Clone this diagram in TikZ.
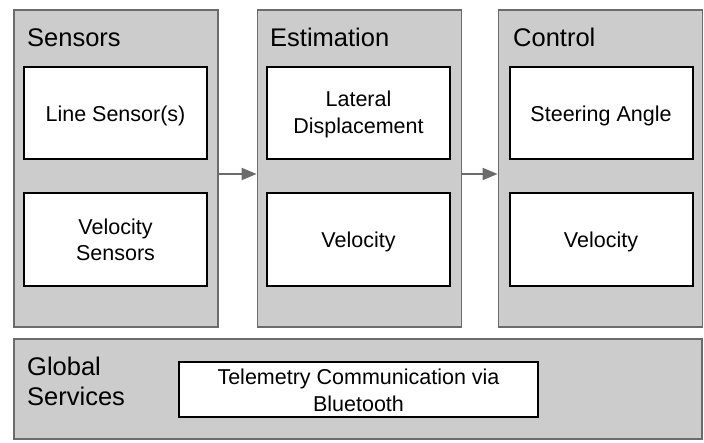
\documentclass[tikz,border=0pt]{standalone}
\usepackage{fontspec}
\setmainfont{Liberation Sans}
\usetikzlibrary{arrows.meta}
\definecolor{groupfill}{HTML}{CCCCCC}
\definecolor{groupline}{HTML}{6B6B6B}
\begin{document}
\begin{tikzpicture}[x=1pt,y=1pt,
  group/.style={draw=groupline,fill=groupfill,line width=1.8pt,minimum width=204pt,minimum height=317pt,inner sep=0pt},
  item/.style={draw=black,fill=white,line width=2pt,minimum width=183pt,minimum height=92pt,inner sep=0pt},
  lbl/.style={anchor=base,inner sep=0pt,align=center,font=\fontsize{21.5}{26.5}\selectfont},
  title/.style={anchor=base west,inner sep=0pt,font=\fontsize{25.5}{30}\selectfont,align=left},
  flow/.style={draw=groupline,line width=2pt,-{Triangle[length=15pt,width=12pt]}}]
\useasboundingbox (0,0) rectangle (704,-443);
\node[group] (gs) at (116,-168.5) {};
\node[group] (ge) at (359.5,-168.5) {};
\node[group] (gc) at (600.5,-168.5) {};
\node[group,minimum width=688pt,minimum height=100pt] (gg) at (358,-389) {};
\node[title] (ts) at (27,-46.7) {Sensors};
\node[title] (te) at (270,-46.7) {Estimation};
\node[title] (tc) at (513,-46.7) {Control};
\node[title] (tg) at (27,-406) {Global\\Services};
\node[item] (s1) at (115.5,-113) {};
\node[item,minimum height=93pt] (s2) at (115.5,-239.5) {};
\node[item] (e1) at (358.5,-113) {};
\node[item,minimum height=93pt] (e2) at (358.5,-239.5) {};
\node[item] (c1) at (601,-113) {};
\node[item,minimum height=93pt] (c2) at (601,-239.5) {};
\node[item,minimum width=359pt,minimum height=55pt] (tm) at (358.5,-389.5) {};
\node[lbl] (s1t) at ([yshift=-8.3pt]s1.center) {Line Sensor(s)};
\node[lbl] (s2t) at ([yshift=-21.3pt]s2.center) {Velocity\\Sensors};
\node[lbl] (e1t) at ([yshift=-20.3pt]e1.center) {Lateral\\Displacement};
\node[lbl] (e2t) at ([yshift=-8pt]e2.center) {Velocity};
\node[lbl] (c1t) at ([yshift=-8.3pt]c1.center) {Steering Angle};
\node[lbl] (c2t) at ([yshift=-8pt]c2.center) {Velocity};
\node[lbl] (tmt) at ([yshift=-21.5pt]tm.center) {Telemetry Communication via\\Bluetooth};
\draw[flow] (gs.east|-0,-174) -- (ge.west|-0,-174);
\draw[flow] (ge.east|-0,-174) -- (gc.west|-0,-174);
\end{tikzpicture}
\end{document}
